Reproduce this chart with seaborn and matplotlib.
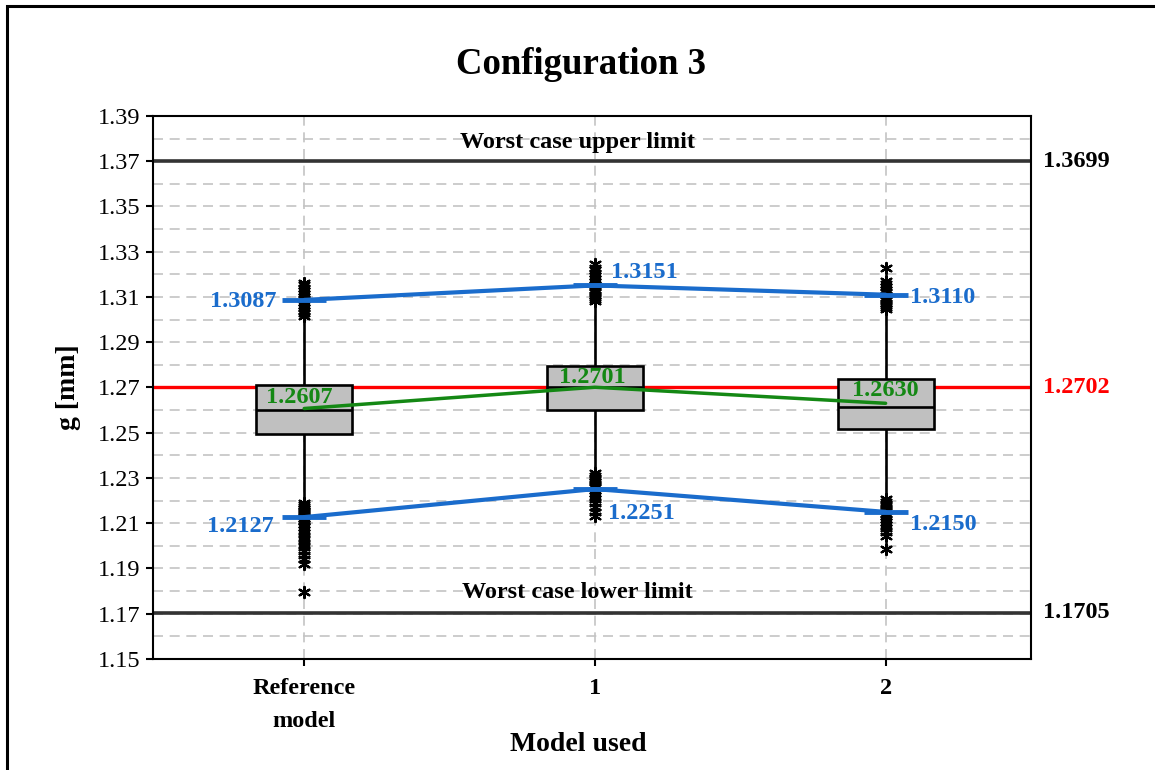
import numpy as np
import pandas as pd
import matplotlib
matplotlib.use("Agg")
import matplotlib.pyplot as plt
import matplotlib.transforms as mtransforms
from matplotlib.patches import Rectangle
from matplotlib.ticker import MultipleLocator
import seaborn as sns

# ---------------- data ----------------
categories = ["Reference\nmodel", "1", "2"]
# box stats: lower whisker, Q1, median, Q3, upper whisker
box_ref = [1.2194, 1.2494, 1.2601, 1.2711, 1.3007]
box_m1 = [1.2326, 1.2601, 1.2702, 1.2795, 1.3073]
box_m2 = [1.2210, 1.2517, 1.2614, 1.2738, 1.3040]

out_ref = [1.3015, 1.3028, 1.3040, 1.3052, 1.3065, 1.3078, 1.3090, 1.3102,
           1.3115, 1.3128, 1.3140, 1.3152, 1.3160,
           1.2188, 1.2180, 1.2172, 1.2164, 1.2156, 1.2148, 1.2140, 1.2132,
           1.2124, 1.2116, 1.2108, 1.2098, 1.2085, 1.2070, 1.2055, 1.2040,
           1.2025, 1.2010, 1.1995, 1.1978, 1.1960, 1.1940, 1.1918, 1.1796]
out_m1 = [1.3080, 1.3090, 1.3100, 1.3110, 1.3120, 1.3130, 1.3142, 1.3155,
          1.3168, 1.3180, 1.3192, 1.3205, 1.3218, 1.3230, 1.3245,
          1.2320, 1.2310, 1.2300, 1.2290, 1.2280, 1.2270, 1.2258, 1.2245,
          1.2232, 1.2220, 1.2205, 1.2190, 1.2172, 1.2150, 1.2130]
out_m2 = [1.3045, 1.3055, 1.3065, 1.3075, 1.3085, 1.3095, 1.3108, 1.3120,
          1.3132, 1.3145, 1.3158, 1.3170, 1.3230,
          1.2205, 1.2195, 1.2185, 1.2175, 1.2165, 1.2155, 1.2142, 1.2130,
          1.2118, 1.2105, 1.2092, 1.2078, 1.2062, 1.2045, 1.1988]

upper_vals = [1.3087, 1.3151, 1.3110]
lower_vals = [1.2127, 1.2251, 1.2150]
mid_vals = [1.2607, 1.2701, 1.2630]

worst_upper = 1.3699
worst_lower = 1.1705
nominal = 1.2702

ytick_vals = [1.15, 1.17, 1.19, 1.21, 1.23, 1.25, 1.27, 1.29, 1.31, 1.33, 1.35, 1.37, 1.39]

# ---------------- frames ----------------
box_df = pd.DataFrame({
    "model": [categories[0]] * len(box_ref) + [categories[1]] * len(box_m1) + [categories[2]] * len(box_m2),
    "g": box_ref + box_m1 + box_m2,
})
out_df = pd.DataFrame({
    "model": [categories[0]] * len(out_ref) + [categories[1]] * len(out_m1) + [categories[2]] * len(out_m2),
    "g": out_ref + out_m1 + out_m2,
})

# ---------------- style ----------------
sns.set_theme(style="white")
plt.rcParams["font.family"] = ["Liberation Serif", "DejaVu Serif"]
plt.rcParams["axes.linewidth"] = 1.5
plt.rcParams["text.color"] = "black"
plt.rcParams["axes.labelcolor"] = "black"
plt.rcParams["xtick.color"] = "black"
plt.rcParams["ytick.color"] = "black"

BLUE = "#1a6ccc"
GREEN = "#148814"
RED = "#ff0000"
DARK = "#333333"
GRID = "#c4c4c4"

fig = plt.figure(figsize=(11.55, 7.7), dpi=100)
ax = fig.add_axes([0.1325, 0.1442, 0.8926 - 0.1325, 0.8494 - 0.1442])

sns.boxplot(data=box_df, x="model", y="g", order=categories, whis=(0, 100),
            width=0.33, color="#c0c0c0", saturation=1, linecolor="black",
            linewidth=1.9, showfliers=False, showcaps=False, ax=ax, zorder=2)

sns.stripplot(data=out_df, x="model", y="g", order=categories, jitter=False,
              marker=(6, 2, 0), color="black", size=8, linewidth=1.6, ax=ax, zorder=3)

pos = np.arange(len(categories))
for vals in (upper_vals, lower_vals):
    sns.lineplot(x=pos, y=vals, color=BLUE, lw=3, marker="_", markersize=32,
                 markeredgewidth=3.5, markeredgecolor=BLUE, ax=ax, zorder=5)
sns.lineplot(x=pos, y=mid_vals, color=GREEN, lw=2.5, ax=ax, zorder=5)

ax.axhline(worst_upper, color=DARK, lw=2.6, zorder=1)
ax.axhline(worst_lower, color=DARK, lw=2.6, zorder=1)
ax.axhline(nominal, color=RED, lw=2.4, zorder=1)

# axes
ax.set_xlim(-0.52, 2.5)
ax.set_ylim(1.15, 1.39)
ax.set_yticks(ytick_vals)
ax.set_yticklabels([f"{v:.2f}" for v in ytick_vals], fontsize=17.5)
ax.yaxis.set_minor_locator(MultipleLocator(0.01))
ax.set_xticks(pos)
ax.set_xticklabels(categories, fontsize=17.5, fontweight="bold", linespacing=1.75)
ax.tick_params(axis="y", which="major", direction="out", length=5, width=1.5, pad=4,
               left=True, colors="black")
ax.tick_params(axis="x", which="major", direction="out", length=5, width=1.5, pad=9,
               bottom=True, colors="black")
ax.tick_params(axis="y", which="minor", length=0)
ax.grid(True, which="both", axis="y", color=GRID, lw=1.2, ls=(0, (6, 4)))
ax.grid(True, which="major", axis="x", color=GRID, lw=1.2, ls=(0, (6, 4)))
ax.set_axisbelow(True)
for s in ax.spines.values():
    s.set_visible(True)
    s.set_color("black")
    s.set_linewidth(1.5)

ax.set_xlabel("Model used", fontsize=20, fontweight="bold", color="black")
ax.set_ylabel("g [mm]", fontsize=20, fontweight="bold", labelpad=12, color="black")
ax.xaxis.set_label_coords(0.5 - (592 - 578) / 878, -0.135)
fig.text(0.503, 0.9156, "Configuration 3", ha="center", va="center", fontsize=26.5,
         fontweight="bold", color="black")

# limit texts
bt = mtransforms.blended_transform_factory(fig.transFigure, ax.transData)
ax.annotate("Worst case upper limit", xy=(0.5, worst_upper), xycoords=bt, xytext=(0, 19),
            textcoords="offset pixels", ha="center", va="center", fontsize=17.5,
            fontweight="bold", color="black")
ax.annotate("Worst case lower limit", xy=(0.5, worst_lower), xycoords=bt, xytext=(0, 20),
            textcoords="offset pixels", ha="center", va="center", fontsize=17.5,
            fontweight="bold", color="black")

rt = mtransforms.blended_transform_factory(ax.transAxes, ax.transData)
for val, col in ((worst_upper, "black"), (nominal, RED), (worst_lower, "black")):
    ax.annotate(f"{val:.4f}", xy=(1.0, val), xycoords=rt, xytext=(12, 0),
                textcoords="offset pixels", ha="left", va="center", fontsize=17.5,
                fontweight="bold", color=col)

# value labels
up_off = [(-28, -2, "right"), (16, 13, "left"), (24, -3, "left")]
lo_off = [(-30, -9, "right"), (13, -24, "left"), (24, -13, "left")]
mid_off = [(-5, 11, "center"), (-3, 10, "center"), (0, 13, "center")]
for i in range(len(categories)):
    dx, dy, ha = up_off[i]
    ax.annotate(f"{upper_vals[i]:.4f}", xy=(pos[i], upper_vals[i]), xytext=(dx, dy),
                textcoords="offset pixels", ha=ha, va="center", fontsize=17.5,
                fontweight="bold", color=BLUE, zorder=6)
    dx, dy, ha = lo_off[i]
    ax.annotate(f"{lower_vals[i]:.4f}", xy=(pos[i], lower_vals[i]), xytext=(dx, dy),
                textcoords="offset pixels", ha=ha, va="center", fontsize=17.5,
                fontweight="bold", color=BLUE, zorder=6)
    dx, dy, ha = mid_off[i]
    ax.annotate(f"{mid_vals[i]:.4f}", xy=(pos[i], mid_vals[i]), xytext=(dx, dy),
                textcoords="offset pixels", ha=ha, va="center", fontsize=17.5,
                fontweight="bold", color=GREEN, zorder=6)

# figure border (left and top visible)
fig.patches.append(Rectangle((6.5 / 1155, -0.1), 1.2, 1.1 - 6 / 770,
                             transform=fig.transFigure, fill=False, edgecolor="black",
                             lw=2.2, zorder=10))

fig.savefig("out.png", dpi=100)
